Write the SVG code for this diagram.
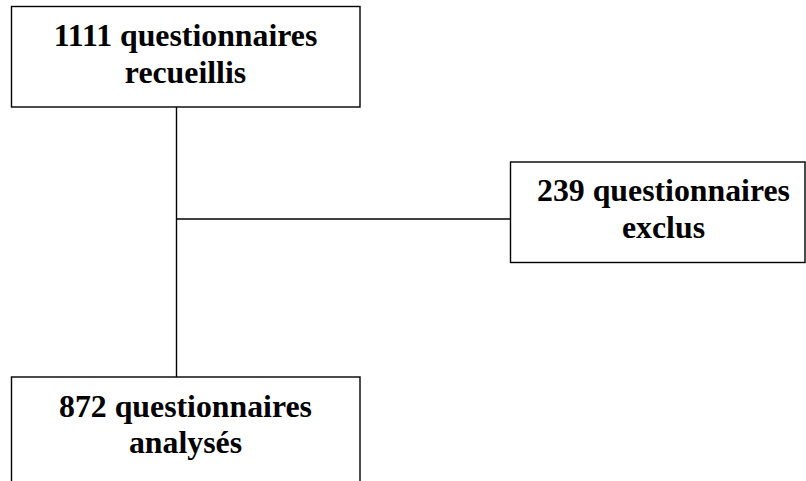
<svg xmlns="http://www.w3.org/2000/svg" width="806" height="481" viewBox="0 0 806 481">
<style>
.box{fill:#fff;stroke:#000;stroke-width:1.4}
.conn{stroke:#000;stroke-width:1.4;fill:none}
.t{font-family:"Liberation Serif","Times New Roman",serif;font-weight:bold;font-size:31.8px;fill:#000;text-anchor:middle}
</style>
<rect width="806" height="481" fill="#fff"/>
<g id="connectors">
<line class="conn" x1="176.5" y1="107" x2="176.5" y2="377"/>
<line class="conn" x1="176.5" y1="219" x2="510.5" y2="219"/>
</g>
<g id="node-recueillis">
<rect class="box" x="11.5" y="6.5" width="348.5" height="100.5"/>
<text class="t" x="185.5" y="46">1111 questionnaires</text>
<text class="t" x="185.5" y="83">recueillis</text>
</g>
<g id="node-exclus">
<rect class="box" x="510.5" y="162" width="294.5" height="100.5"/>
<text class="t" x="663.5" y="201">239 questionnaires</text>
<text class="t" x="663.5" y="238">exclus</text>
</g>
<g id="node-analyses">
<rect class="box" x="11.5" y="377" width="348.5" height="120"/>
<text class="t" x="185.5" y="417">872 questionnaires</text>
<text class="t" x="185.5" y="453">analysés</text>
</g>
</svg>
